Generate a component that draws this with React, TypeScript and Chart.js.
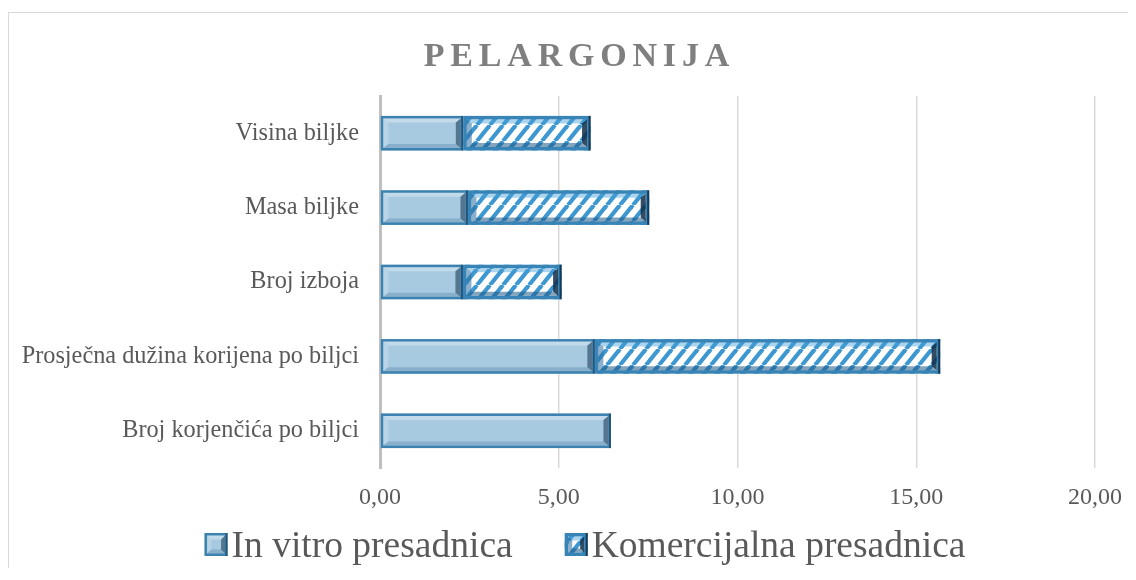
import React, { useEffect, useRef } from 'react';
import { Chart, registerables } from 'chart.js';

Chart.register(...registerables);

const chartTitle = 'PELARGONIJA';
const categories = [
  'Visina biljke',
  'Masa biljke',
  'Broj izboja',
  'Prosječna dužina korijena po biljci',
  'Broj korjenčića po biljci',
];
const seriesNames = ['In vitro presadnica', 'Komercijalna presadnica'];
const inVitro = [2.33, 2.46, 2.32, 6.01, 6.46];
const komercijalna = [3.56, 5.07, 2.76, 9.66, 0];
const xTickValues = [0, 5, 10, 15, 20];

const SERIF = '"Liberation Serif", "Times New Roman", serif';
const TEXT = '#595959';

function makeHatch(): CanvasPattern {
  const w = 13;
  const h = 16;
  const c = document.createElement('canvas');
  c.width = w;
  c.height = h;
  const g = c.getContext('2d')!;
  g.fillStyle = '#ffffff';
  g.fillRect(0, 0, w, h);
  g.strokeStyle = '#3d97d0';
  g.lineWidth = 4.2;
  for (const off of [-w, 0, w]) {
    g.beginPath();
    g.moveTo(off, h);
    g.lineTo(off + w, 0);
    g.stroke();
  }
  return g.createPattern(c, 'repeat')!;
}

type BevelStyle = {
  frame: string;
  frameW: number;
  top: string;
  bottom: string;
  left: string;
  right: string;
};

const bevelStyles: BevelStyle[] = [
  {
    frame: '#3b82b0',
    frameW: 2.5,
    top: 'rgba(255,255,255,0.3)',
    bottom: 'rgba(40,100,145,0.25)',
    left: 'rgba(255,255,255,0.2)',
    right: 'rgba(15,50,80,0.55)',
  },
  {
    frame: '#3884b6',
    frameW: 3.5,
    top: 'rgba(70,160,215,0.45)',
    bottom: 'rgba(30,90,135,0.55)',
    left: 'rgba(40,110,160,0.55)',
    right: 'rgba(15,45,70,0.85)',
  },
];

function drawBevel(
  ctx: CanvasRenderingContext2D,
  x0: number,
  y0: number,
  x1: number,
  y1: number,
  st: BevelStyle,
  b: number,
  t: number
) {
  const f = st.frameW;
  ctx.save();
  ctx.lineWidth = f;
  ctx.strokeStyle = st.frame;
  ctx.strokeRect(x0 + f / 2, y0 + f / 2, x1 - x0 - f, y1 - y0 - f);
  const ix0 = x0 + f;
  const iy0 = y0 + f;
  const ix1 = x1 - f;
  const iy1 = y1 - f;
  const poly = (pts: number[][], color: string) => {
    ctx.beginPath();
    ctx.moveTo(pts[0][0], pts[0][1]);
    for (let k = 1; k < pts.length; k++) ctx.lineTo(pts[k][0], pts[k][1]);
    ctx.closePath();
    ctx.fillStyle = color;
    ctx.fill();
  };
  poly([[ix0, iy0], [ix1, iy0], [ix1 - b, iy0 + t], [ix0 + b, iy0 + t]], st.top);
  poly([[ix0, iy1], [ix1, iy1], [ix1 - b, iy1 - t], [ix0 + b, iy1 - t]], st.bottom);
  poly([[ix0, iy0], [ix0 + b, iy0 + t], [ix0 + b, iy1 - t], [ix0, iy1]], st.left);
  poly([[ix1, iy0], [ix1 - b, iy0 + t], [ix1 - b, iy1 - t], [ix1, iy1]], st.right);
  ctx.fillStyle = st.right;
  ctx.fillRect(x1 - 2, y0, 2, y1 - y0);
  ctx.restore();
}

const bevelPlugin = {
  id: 'bevelBars',
  afterDatasetsDraw(chart: any) {
    const ctx = chart.ctx as CanvasRenderingContext2D;
    chart.data.datasets.forEach((ds: any, di: number) => {
      const meta = chart.getDatasetMeta(di);
      if (meta.hidden) return;
      meta.data.forEach((el: any, i: number) => {
        const v = ds.data[i];
        if (!v) return;
        const p = el.getProps(['x', 'y', 'base', 'height'], true);
        const x0 = Math.min(p.x, p.base);
        const x1 = Math.max(p.x, p.base);
        const y0 = p.y - p.height / 2;
        const y1 = p.y + p.height / 2;
        drawBevel(ctx, x0, y0, x1, y1, bevelStyles[di], 5, 4);
      });
    });
  },
};

const titlePlugin = {
  id: 'spacedTitle',
  afterDraw(chart: any) {
    const ctx = chart.ctx as CanvasRenderingContext2D;
    ctx.save();
    ctx.font = `bold 34px ${SERIF}`;
    (ctx as any).letterSpacing = '5.8px';
    ctx.fillStyle = '#7f7f7f';
    ctx.textBaseline = 'alphabetic';
    ctx.textAlign = 'left';
    const w = ctx.measureText(chartTitle).width - 5.8;
    ctx.fillText(chartTitle, 567.5 - w / 2, 53);
    ctx.restore();
  },
};

const legendPlugin = {
  id: 'bevelLegend',
  afterDraw(chart: any) {
    const ctx = chart.ctx as CanvasRenderingContext2D;
    ctx.save();
    ctx.font = `37.5px ${SERIF}`;
    const box = 23;
    const gap = 4;
    const itemGap = 52;
    const widths = chart.data.datasets.map(
      (ds: any) => box + gap + ctx.measureText(ds.label).width
    );
    const total = widths.reduce((a: number, b: number) => a + b, 0) + itemGap * (widths.length - 1);
    let x = 576 - total / 2;
    const boxTop = 520;
    const baseline = 544;
    chart.data.datasets.forEach((ds: any, di: number) => {
      ctx.fillStyle = ds.backgroundColor;
      ctx.fillRect(x, boxTop, box, box);
      drawBevel(ctx, x, boxTop, x + box, boxTop + box, bevelStyles[di], 4, 4);
      ctx.fillStyle = TEXT;
      ctx.textBaseline = 'alphabetic';
      ctx.textAlign = 'left';
      ctx.fillText(ds.label, x + box + gap, baseline);
      x += widths[di] + itemGap;
    });
    ctx.restore();
  },
};

export default function App() {
  const ref = useRef<HTMLCanvasElement | null>(null);

  useEffect(() => {
    document.body.style.overflow = 'hidden';
    document.documentElement.style.overflow = 'hidden';
    const canvas = ref.current;
    if (!canvas) return;
    const hatch = makeHatch();
    const chart = new Chart(canvas, {
      type: 'bar',
      data: {
        labels: categories,
        datasets: [
          {
            label: seriesNames[0],
            data: inVitro,
            backgroundColor: '#a8cae0',
            borderWidth: 0,
            borderSkipped: false,
          },
          {
            label: seriesNames[1],
            data: komercijalna,
            backgroundColor: hatch as any,
            borderWidth: 0,
            borderSkipped: false,
          },
        ],
      },
      options: {
        indexAxis: 'y',
        animation: false,
        responsive: false,
        events: [],
        datasets: {
          bar: { categoryPercentage: 0.465, barPercentage: 1 },
        },
        layout: { padding: { top: 83, right: 33, bottom: 0, left: 0 } },
        plugins: {
          legend: { display: false },
          title: { display: false },
          tooltip: { enabled: false },
        },
        scales: {
          x: {
            stacked: true,
            min: 0,
            max: 20,
            afterBuildTicks: (scale: any) => {
              scale.ticks = xTickValues.map((v) => ({ value: v }));
            },
            afterFit: (scale: any) => {
              scale.height = 104;
              scale.paddingLeft = 0;
              scale.paddingRight = 0;
            },
            ticks: {
              color: TEXT,
              font: { family: SERIF, size: 24 },
              padding: 15,
              maxRotation: 0,
              callback: (v: any) => Number(v).toFixed(2).replace('.', ','),
            },
            grid: {
              drawTicks: false,
              lineWidth: 1.5,
              color: (c: any) => (c.tick && c.tick.value === 0 ? 'rgba(0,0,0,0)' : '#d9d9d9'),
            },
            border: { display: false },
          },
          y: {
            stacked: true,
            afterFit: (scale: any) => {
              scale.width = 371;
              scale.paddingTop = 0;
              scale.paddingBottom = 0;
            },
            ticks: {
              color: TEXT,
              font: { family: SERIF, size: 24.3 },
              padding: 21,
            },
            grid: { drawTicks: false, color: 'rgba(0,0,0,0)' },
            border: { display: true, color: '#bfbfbf', width: 3 },
          },
        },
      },
      plugins: [bevelPlugin, titlePlugin, legendPlugin],
    });
    return () => chart.destroy();
  }, []);

  return (
    <div
      style={{
        position: 'relative',
        top: 4,
        width: 1140,
        height: 560,
        borderLeft: '1px solid #d9d9d9',
        borderTop: '1px solid #d9d9d9',
        background: '#ffffff',
        boxSizing: 'border-box',
      }}
    >
      <canvas ref={ref} width={1119} height={559} style={{ display: 'block', width: 1119, height: 559 }} />
    </div>
  );
}
